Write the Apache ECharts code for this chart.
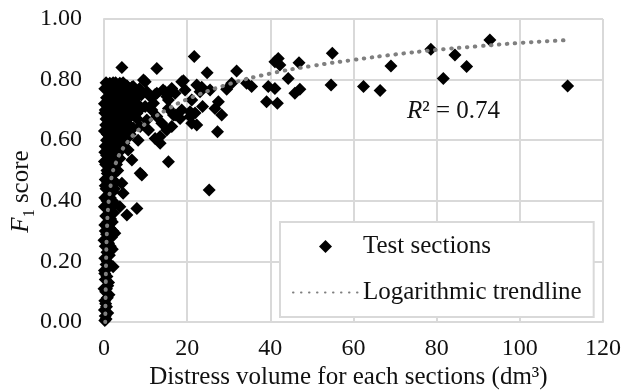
<!DOCTYPE html>
<html>
<head>
<meta charset="utf-8">
<script src="https://cdn.jsdelivr.net/npm/echarts@6/dist/echarts.min.js"></script>
<style>html,body{margin:0;padding:0;background:#fff;}#c{width:623px;height:391px;}</style>
</head>
<body>
<div id="c"></div>
<script>
// ---- data ----
const seriesNames = ['Test sections', 'Logarithmic trendline'];
const xTickLabels = ['0', '20', '40', '60', '80', '100', '120'];
const yTickLabels = ['0.00', '0.20', '0.40', '0.60', '0.80', '1.00'];
const rSquaredText = '0.74';

// scattered points (x > 20)
const farPoints = [
  [111.5,0.779],[92.8,0.931],[78.6,0.900],[84.4,0.881],[87.2,0.843],[81.6,0.804],[69.0,0.845],
  [62.4,0.777],[66.4,0.764],[54.9,0.887],[54.6,0.782],
  [41.9,0.870],[41.1,0.859],[42.3,0.848],[46.9,0.856],[44.3,0.804],[39.5,0.777],[41.1,0.771],
  [47.1,0.768],[45.9,0.755],[39.1,0.727],[41.7,0.722],
  [31.9,0.828],[24.8,0.823],[34.3,0.788],[35.5,0.777],[30.7,0.788],[29.5,0.768],[25.5,0.766],
  [23.5,0.775],[23.7,0.711],[27.5,0.727],[26.7,0.705],[28.3,0.683],[27.3,0.628],[25.3,0.436],
  [22.3,0.782],[21.9,0.690],[22.3,0.650],[21.7,0.876],[23.1,0.760],[21.1,0.733],[21.1,0.656]
];
// points between 5 and 21
const midPoints = [
  [4.3,0.840],[12.7,0.837],[9.9,0.793],[6.7,0.775],[19.1,0.796],[17.1,0.755],[14.7,0.760],
  [12.7,0.755],[11.1,0.744],[9.9,0.711],[17.1,0.683],[18.3,0.672],[20.7,0.694],[15.1,0.634],
  [13.9,0.656],[13.5,0.590],[15.5,0.733],[13.5,0.612],[15.5,0.529],[8.7,0.491],[7.9,0.375],
  [5.5,0.353],[16.3,0.645],[18.7,0.700],[20.7,0.678],[12.7,0.678],[11.9,0.722],[10.3,0.760],
  [7.0,0.777],[4.6,0.425],[4.3,0.458],[3.8,0.380],[2.6,0.293],[2.2,0.182],
  [12.3,0.751],[14.2,0.766],[16.3,0.771],[18.7,0.793],[19.5,0.766],[16.7,0.683],[10.7,0.634],
  [12.3,0.606],[10.3,0.667],[7.9,0.689],[8.7,0.645],[11.5,0.700],[15.5,0.705],[15.1,0.744],
  [4.6,0.600],[5.8,0.568],[6.7,0.535],[9.1,0.485],[9.5,0.799],[7.5,0.720],[8.2,0.600]
];
// dense cluster near zero
const densePoints = [
  [0.2,0.005],[0.3,0.02],[0.1,0.04],[0.6,0.05],[0.2,0.07],[0.8,0.08],[0.4,0.10],[0.0,0.11],
  [0.9,0.12],[0.3,0.14],[0.7,0.15],[0.1,0.17],[1.0,0.18],[0.5,0.19],[0.2,0.21],[1.3,0.22],
  [0.7,0.23],[2.0,0.24],[0.3,0.25],[1.1,0.26],[0.0,0.27],[1.8,0.28],[0.6,0.29],[2.1,0.30],
  [1.4,0.31],[0.2,0.32],[0.9,0.33],[1.6,0.34],[0.4,0.35],[2.3,0.36],[1.2,0.37],[0.1,0.38],
  [1.9,0.39],[0.7,0.40],
  [0.2,0.41],[1.0,0.42],[2.1,0.43],[0.5,0.44],[1.6,0.45],[2.8,0.46],[0.3,0.47],[1.2,0.48],
  [2.4,0.49],[0.7,0.50],[1.8,0.51],[3.0,0.52],[0.1,0.53],[1.4,0.54],[2.6,0.55],[0.9,0.46],
  [0.4,0.52],[2.0,0.40],[3.3,0.50],[1.1,0.44],
  [0.2,0.56],[1.3,0.57],[2.5,0.58],[3.6,0.56],[4.8,0.59],[0.6,0.60],[1.9,0.61],[3.0,0.62],
  [4.2,0.60],[5.5,0.63],[0.1,0.63],[1.0,0.64],[2.2,0.65],[3.4,0.64],[4.6,0.66],[6.0,0.65],
  [0.5,0.67],[1.6,0.68],[2.8,0.66],[3.9,0.68],[5.2,0.67],[0.3,0.58],[0.8,0.62],[2.0,0.59],
  [3.2,0.60],[1.4,0.66],[4.0,0.63],[2.6,0.62],[0.2,0.69],[5.8,0.61],[7.0,0.64],[6.5,0.68],
  [0.3,0.70],[1.1,0.71],[2.0,0.72],[3.1,0.70],[4.3,0.73],[5.5,0.71],[6.7,0.74],[8.0,0.72],
  [0.6,0.74],[1.5,0.75],[2.6,0.76],[3.8,0.74],[5.0,0.76],[6.2,0.77],[7.5,0.76],[9.0,0.75],
  [0.2,0.77],[1.0,0.78],[2.2,0.79],[3.4,0.78],[4.6,0.79],[0.9,0.68],[2.4,0.69],[3.6,0.72],
  [4.9,0.69],[6.0,0.70],[7.2,0.71],[8.5,0.70],[1.8,0.73],[0.1,0.72],[2.9,0.74],[4.0,0.76],
  [5.8,0.74],[1.4,0.788],[3.8,0.788],[1.0,0.771],
  [0.5,0.01],[0.9,0.03],[0.4,0.06],[1.2,0.09],[0.6,0.11],[1.1,0.13],[0.2,0.16],[0.8,0.20],
  [1.5,0.25],[0.5,0.27],[1.2,0.29],[0.3,0.30],[1.0,0.35],[2.0,0.33],[0.5,0.38],[1.5,0.41],
  [2.5,0.44],[0.3,0.45],[1.9,0.47],[0.8,0.49],[2.2,0.53],[0.6,0.55],[3.2,0.57],[1.7,0.59],
  [4.0,0.58],[2.7,0.60],[3.7,0.62],[5.0,0.61],[1.5,0.62],[0.4,0.65],[2.0,0.67],[3.3,0.67],
  [4.4,0.70],[5.6,0.69],[1.5,0.70],[2.5,0.71],[3.5,0.75],[4.8,0.74],[6.5,0.72],[7.8,0.74],
  [8.5,0.77],[5.5,0.78],[3.0,0.77],[1.8,0.77],[0.5,0.79],[2.8,0.79],[4.1,0.785],[6.0,0.75],
  [7.0,0.69],[8.0,0.67],[5.2,0.65],[6.3,0.62],[3.8,0.54],[2.9,0.50],[1.6,0.38],[2.6,0.39],
  [1.7,0.53]
];
// logarithmic trendline
const trendX = [0.3, 0.4, 0.5, 0.7, 1.0, 1.5, 2, 3, 4, 6, 8, 11, 15, 20, 30, 40, 50, 60, 70, 80, 90, 100, 111];
const trendY = [0.00, 0.10, 0.20, 0.30, 0.38, 0.44, 0.49, 0.53, 0.56, 0.60, 0.63, 0.665, 0.70, 0.735, 0.785, 0.82, 0.845, 0.865, 0.883, 0.898, 0.91, 0.921, 0.93];

// ---- chart ----
const FONT = "'Liberation Serif', 'Times New Roman', serif";
const gridColor = '#d9d9d9';
const textColor = '#111';
const scatterData = farPoints.concat(midPoints, densePoints);
const trendData = trendX.map((x, i) => [x, trendY[i]]);

const chart = echarts.init(document.getElementById('c'), null, {renderer: 'canvas'});
chart.setOption({
  backgroundColor: '#fff',
  animation: false,
  grid: {left: 104, right: 20, top: 19, bottom: 69, outerBoundsMode: 'none'},
  xAxis: {
    type: 'value', min: 0, max: 120, interval: 20,
    name: 'Distress volume for each sections (dm³)',
    nameLocation: 'middle', nameGap: 43, nameMoveOverlap: false,
    nameTextStyle: {fontFamily: FONT, fontSize: 25, color: textColor, padding: [0, 10, 0, 0]},
    axisLine: {show: true, lineStyle: {color: gridColor, width: 2}},
    axisTick: {show: false},
    axisLabel: {margin: 15, fontFamily: FONT, fontSize: 24, color: textColor,
      formatter: (v) => xTickLabels[Math.round(v / 20)]},
    splitLine: {show: true, lineStyle: {color: gridColor, width: 2}}
  },
  yAxis: {
    type: 'value', min: 0, max: 1, interval: 0.2,
    name: '{f|F}{s|1}{n| score}',
    nameLocation: 'middle', nameGap: 66, nameRotate: 90, nameMoveOverlap: false,
    nameTextStyle: {
      fontFamily: FONT, fontSize: 25, color: textColor, padding: [0, 42, 0, 0],
      rich: {
        f: {fontFamily: FONT, fontSize: 25, fontStyle: 'italic', lineHeight: 34, verticalAlign: 'middle', color: textColor},
        s: {fontFamily: FONT, fontSize: 16, lineHeight: 16, verticalAlign: 'bottom', color: textColor},
        n: {fontFamily: FONT, fontSize: 25, lineHeight: 34, verticalAlign: 'middle', color: textColor}
      }
    },
    axisLine: {show: true, lineStyle: {color: gridColor, width: 2}},
    axisTick: {show: false},
    axisLabel: {margin: 22, fontFamily: FONT, fontSize: 24, color: textColor,
      formatter: (v) => yTickLabels[Math.round(v / 0.2)]},
    splitLine: {show: true, lineStyle: {color: gridColor, width: 2}}
  },
  legend: {
    orient: 'vertical', left: 280, top: 222,
    padding: [12, 12, 12, 12], itemGap: 21,
    itemWidth: 65, itemHeight: 13,
    backgroundColor: '#fff', borderColor: gridColor, borderWidth: 2,
    textStyle: {fontFamily: FONT, fontSize: 25, color: textColor},
    data: [
      {name: seriesNames[0], icon: 'path://M0,-1L1,0L0,1L-1,0Z', itemStyle: {color: '#000', opacity: 1}},
      {name: seriesNames[1], itemStyle: {opacity: 0}}
    ]
  },
  graphic: [{
    type: 'text', left: 407, top: 99, z: 10,
    style: {
      text: '{i|R}{n|² = ' + rSquaredText + '}',
      rich: {
        i: {fontFamily: FONT, fontSize: 25, fontStyle: 'italic', fill: textColor},
        n: {fontFamily: FONT, fontSize: 25, fill: textColor}
      }
    }
  }],
  series: [
    {
      name: seriesNames[0], type: 'scatter', symbol: 'diamond', symbolSize: 13,
      itemStyle: {color: '#000', opacity: 1}, data: scatterData, z: 2
    },
    {
      name: seriesNames[1], type: 'line', showSymbol: false, symbol: 'none', smooth: true,
      lineStyle: {color: '#7f7f7f', width: 4, type: [0.5, 7.5], cap: 'round'},
      itemStyle: {color: '#7f7f7f'},
      data: trendData, z: 3
    }
  ]
});
</script>
</body>
</html>
